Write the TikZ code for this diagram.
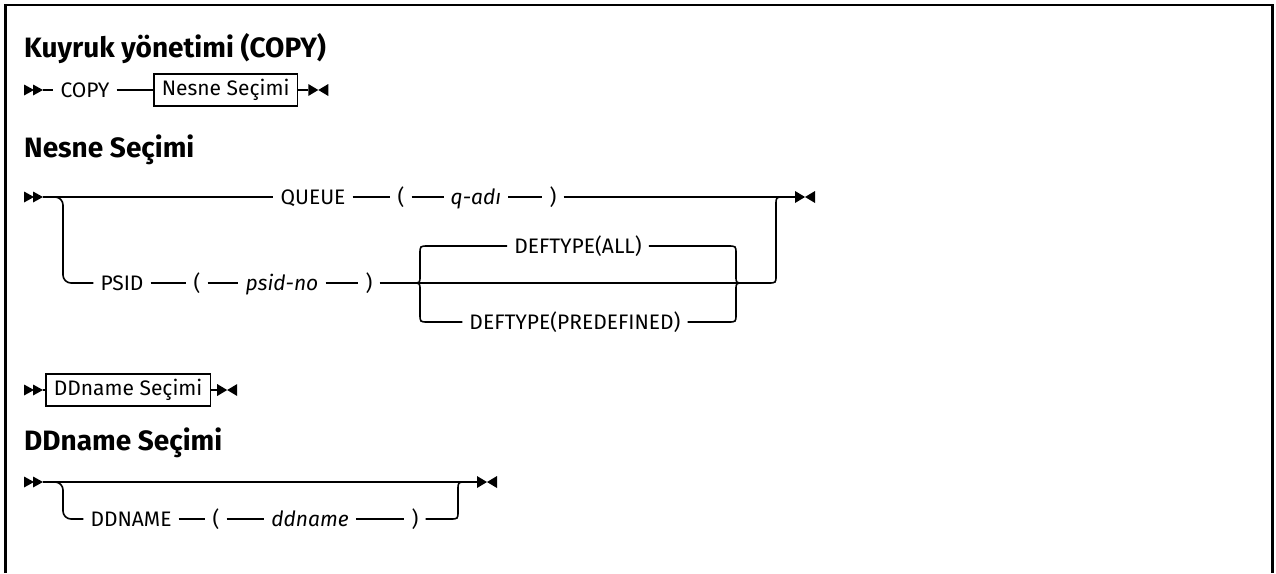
\documentclass[tikz,border=0pt]{standalone}
\usepackage{fontspec}
\setmainfont{Fira Sans}
\begin{document}
\begin{tikzpicture}[x=1pt,y=-1pt,
  rail/.style={line width=1.6pt},
  term/.style={inner xsep=7pt, inner ysep=0pt, text height=14.5pt, text depth=0pt,
               font=\fontsize{21}{23}\selectfont},
  var/.style={term, font=\fontsize{21}{23}\selectfont\itshape},
  refbox/.style={draw, line width=1.6pt, inner xsep=8pt, inner ysep=0pt,
               text height=15pt, text depth=5pt, minimum height=32pt,
               font=\fontsize{21}{23}\selectfont},
  heading/.style={anchor=base west, inner sep=0pt, font=\fontsize{28}{32}\selectfont\bfseries},
  startpic/.pic={\fill (0,-5.5) -- (10,0) -- (0,5.5) -- cycle;
                 \fill (9,-5.5) -- (19,0) -- (9,5.5) -- cycle;},
  endpic/.pic={\fill (0,-6) -- (10,0) -- (0,6) -- cycle;
               \fill (20,-6) -- (10,0) -- (20,6) -- cycle;}
]
\useasboundingbox (0,0) rectangle (1276,573);
\draw[line width=2.5pt] (5.5,573) -- (5.5,5) -- (1272.5,5) -- (1272.5,573);

% ---------- headings
\node[heading] (h1) at (24,57) {Kuyruk yönetimi (COPY)};
\node[heading] (h2) at (24,157) {Nesne Seçimi};
\node[heading] (h3) at (24,450) {DDname Seçimi};

% ---------- row 1
\pic at (24,90) {startpic};
\coordinate (s1) at (43,90);
\node[term] (copy) at (85,90) {COPY};
\node[refbox, anchor=west] (nesne) at (153,90) {Nesne Seçimi};
\coordinate (e1) at ([xshift=10pt]nesne.east);
\pic at (e1) {endpic};
\draw[rail] (s1) -- (copy.west) (copy.east) -- (nesne.west) (nesne.east) -- (e1);

% ---------- row 2 : Nesne Seçimi
\pic at (24,197) {startpic};
\coordinate (s2) at (43,197);
\node[term] (queue) at (313,197) {QUEUE};
\node[term] (lp1) at (401,197) {(};
\node[var] (qadi) at (476,197) {q-adı};
\node[term] (rp1) at (553,197) {)};
\coordinate (e2) at (795,197);
\pic at (e2) {endpic};
\draw[rail] (s2) -- (queue.west) (queue.east) -- (lp1.west) (lp1.east) -- (qadi.west)
            (qadi.east) -- (rp1.west) (rp1.east) -- (e2);

\node[term] (psid) at (122,283) {PSID};
\node[term] (lp2) at (197,283) {(};
\node[var] (psidno) at (282,283) {psid-no};
\node[term] (rp2) at (369,283) {)};
\draw[rail, rounded corners=8pt] (s2) -- ++(20,0) |- (psid.west);
\draw[rail] (psid.east) -- (lp2.west) (lp2.east) -- (psidno.west)
            (psidno.east) -- (rp2.west);

\coordinate (cl) at (413,283);
\coordinate (cr) at (743,283);
\node[term] (all) at (578,246) {DEFTYPE(ALL)};
\node[term] (pre) at (575,322) {DEFTYPE(PREDEFINED)};
\draw[rail] (rp2.east) -- (cl) -- (cr);
\draw[rail] (cl) .. controls (420,283) .. (420,276) -- (420,254)
            .. controls (420,246) .. (428,246) -- (all.west);
\draw[rail] (cl) .. controls (420,283) .. (420,290) -- (420,314)
            .. controls (420,322) .. (428,322) -- (pre.west);
\draw[rail] (all.east) -- (728,246) .. controls (736,246) .. (736,254) -- (736,276)
            .. controls (736,283) .. (cr);
\draw[rail] (pre.east) -- (728,322) .. controls (736,322) .. (736,314) -- (736,290)
            .. controls (736,283) .. (cr);
\draw[rail] (cr) -- (768,283) .. controls (776,283) .. (776,275) -- (776,205)
            .. controls (776,197) .. (784,197);

% ---------- row 3
\pic at (24,390) {startpic};
\coordinate (s3) at (43,390);
\node[refbox, anchor=west] (ddbox) at (45,390) {DDname Seçimi};
\coordinate (e3) at ([xshift=6pt]ddbox.east);
\pic at (e3) {endpic};
\draw[rail] (s3) -- (ddbox.west) (ddbox.east) -- (e3);

% ---------- row 4 : DDname Seçimi
\pic at (24,482) {startpic};
\coordinate (s4) at (43,482);
\coordinate (e4) at (477,482);
\pic at (e4) {endpic};
\draw[rail] (s4) -- (e4);
\node[term] (ddn) at (131,519) {DDNAME};
\node[term] (lp4) at (216,519) {(};
\node[var] (ddname) at (310,519) {ddname};
\node[term] (rp4) at (415,519) {)};
\draw[rail, rounded corners=8pt] (s4) -- ++(20,0) |- (ddn.west);
\draw[rail] (ddn.east) -- (lp4.west) (lp4.east) -- (ddname.west)
            (ddname.east) -- (rp4.west);
\draw[rail] (rp4.east) -- (450,519) .. controls (458,519) .. (458,511) -- (458,490)
            .. controls (458,482) .. (466,482);
\end{tikzpicture}
\end{document}
